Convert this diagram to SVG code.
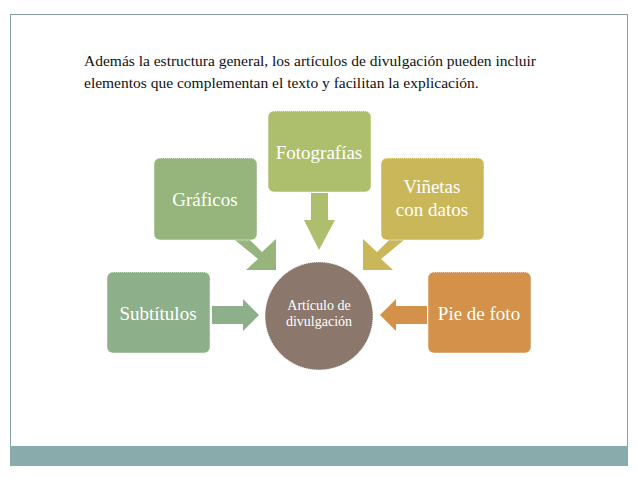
<svg xmlns="http://www.w3.org/2000/svg" width="638" height="479" viewBox="0 0 638 479">
<style>
text{font-family:"Liberation Serif","DejaVu Serif",serif}
.n{fill:#fff;font-size:19px;text-anchor:middle}
.b{stroke:#fff;stroke-width:1;stroke-dasharray:1 1}
</style>
<rect width="638" height="479" fill="#fff"/>
<rect x="10.5" y="14.5" width="617" height="451" fill="#fff" stroke="#8aa0a6"/>
<rect x="10" y="446" width="618" height="20" fill="#8aabab"/>
<text x="84" y="66" font-size="15.5" fill="#111">Además la estructura general, los artículos de divulgación pueden incluir</text>
<text x="84" y="88" font-size="15.5" fill="#111">elementos que complementan el texto y facilitan la explicación.</text>
<g id="connectors">
<polygon points="212,306 243,306 243,299 259,315 243,331 243,324 212,324" fill="#8daf8a"/>
<polygon points="427,306 396,306 396,299 380,315 396,331 396,324 427,324" fill="#d4914a"/>
<polygon points="311,193 328,193 328,220 335,220 319,250 304,220 311,220" fill="#adbf6d"/>
<polygon points="235,240 250,240 262,252 276,239 276,270 246,270 258,259 235,240" fill="#95b57c"/>
<polygon points="404,240 389,240 377,252 363,239 363,270 393,270 381,259 404,240" fill="#c9b75a"/>
</g>
<g id="subtitulos"><rect class="b" x="107" y="272" width="103" height="81" rx="6" fill="#8daf8a"/><text class="n" x="158" y="320">Subtítulos</text></g>
<g id="graficos"><rect class="b" x="154" y="158" width="103" height="82" rx="6" fill="#95b57c"/><text class="n" x="205" y="206">Gráficos</text></g>
<g id="fotografias"><rect class="b" x="268" y="111" width="103" height="81" rx="6" fill="#adbf6d"/><text class="n" x="319" y="159">Fotografías</text></g>
<g id="vinetas"><rect class="b" x="381" y="158" width="103" height="82" rx="6" fill="#c9b75a"/><text class="n" x="432" y="193">Viñetas</text><text class="n" x="432" y="216">con datos</text></g>
<g id="pie"><rect class="b" x="428" y="272" width="103" height="81" rx="6" fill="#d4914a"/><text class="n" x="479" y="320">Pie de foto</text></g>
<g id="articulo"><ellipse class="b" cx="319" cy="316" rx="54" ry="54" fill="#8b776c"/><text x="319" y="310" font-size="14" fill="#fff" text-anchor="middle">Artículo de</text><text x="319" y="326" font-size="14" fill="#fff" text-anchor="middle">divulgación</text></g>
</svg>
